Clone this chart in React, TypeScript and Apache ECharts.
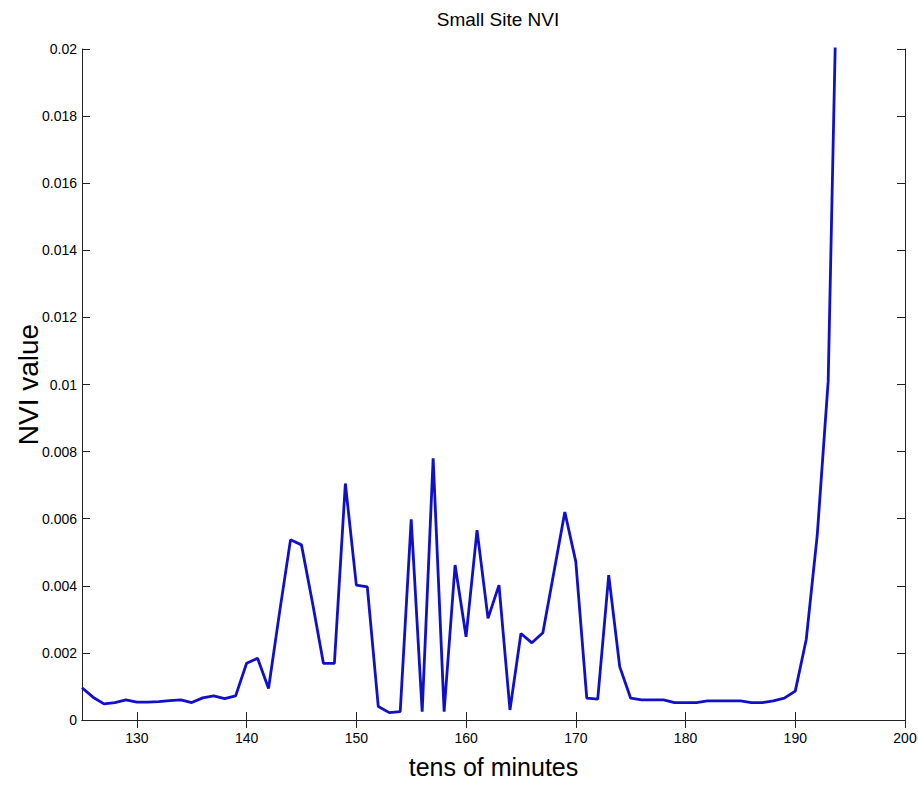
import React, { useEffect, useRef } from "react";
import * as echarts from "echarts";

const minutes: number[] = [
  125, 126, 127, 128, 129, 130, 131, 132, 133, 134,
  135, 136, 137, 138, 139, 140, 141, 142, 143, 144,
  145, 146, 147, 148, 149, 150, 151, 152, 153, 154,
  155, 156, 157, 158, 159, 160, 161, 162, 163, 164,
  165, 166, 167, 168, 169, 170, 171, 172, 173, 174,
  175, 176, 177, 178, 179, 180, 181, 182, 183, 184,
  185, 186, 187, 188, 189, 190, 191, 192, 193, 194,
];

const nviValues: number[] = [
  0.00096, 0.00068, 0.00048, 0.00052, 0.0006, 0.00053, 0.00053, 0.00055, 0.00058, 0.0006,
  0.00052, 0.00066, 0.00072, 0.00064, 0.00072, 0.00169, 0.00184, 0.00094, 0.0032, 0.00537,
  0.00522, 0.0035, 0.00169, 0.00169, 0.00705, 0.00402, 0.00397, 0.0004, 0.00022, 0.00025,
  0.00598, 0.00025, 0.0078, 0.00025, 0.00462, 0.00248, 0.00566, 0.00303, 0.00402, 0.0003,
  0.00258, 0.0023, 0.0026, 0.0044, 0.0062, 0.00472, 0.00065, 0.00062, 0.00432, 0.00159,
  0.00065, 0.0006, 0.0006, 0.0006, 0.00052, 0.00052, 0.00052, 0.00057, 0.00057, 0.00057,
  0.00057, 0.00052, 0.00052, 0.00057, 0.00065, 0.00086, 0.0024, 0.0055, 0.0101, 0.0257,
];

const xTickValues: number[] = [130, 140, 150, 160, 170, 180, 190, 200];

const TITLE = "Small Site NVI";
const X_NAME = "tens of minutes";
const Y_NAME = "NVI value";

const font = "'Liberation Sans', Arial, sans-serif";

export default function App() {
  const ref = useRef<HTMLDivElement>(null);

  useEffect(() => {
    if (!ref.current) return;
    const chart = echarts.init(ref.current, undefined, { renderer: "svg" });
    const fmtY = (v: number) => (v === 0 ? "0" : String(parseFloat(v.toFixed(4))));
    const axisLine = { show: true, lineStyle: { color: "#222", width: 1 } };
    const tick = { show: true, inside: true, length: 8, lineStyle: { color: "#222", width: 1 } };
    chart.setOption({
      animation: false,
      backgroundColor: "#fff",
      title: {
        text: TITLE,
        left: 493,
        textAlign: "center",
        top: 5,
        textStyle: { fontFamily: font, fontSize: 19, fontWeight: "normal", color: "#000" },
      },
      grid: { left: 82, right: 13, top: 49, bottom: 65, containLabel: false, outerBoundsMode: "none" },
      xAxis: [
        {
          type: "value",
          min: 125,
          max: 200,
          name: X_NAME,
          nameLocation: "middle",
          nameGap: 34,
          nameMoveOverlap: false,
          nameTextStyle: { fontFamily: font, fontSize: 25, color: "#000" },
          axisLine,
          axisTick: { ...tick, customValues: xTickValues },
          axisLabel: {
            customValues: xTickValues,
            margin: 11,
            fontFamily: font,
            fontSize: 14,
            color: "#000",
          },
          splitLine: { show: false },
        },
        {
          type: "value",
          position: "top",
          min: 125,
          max: 200,
          axisLine,
          axisTick: { ...tick, customValues: xTickValues },
          axisLabel: { show: false },
          splitLine: { show: false },
        },
      ],
      yAxis: [
        {
          type: "value",
          min: 0,
          max: 0.02,
          interval: 0.002,
          name: Y_NAME,
          nameLocation: "middle",
          nameGap: 40,
          nameRotate: 90,
          nameMoveOverlap: false,
          nameTextStyle: { fontFamily: font, fontSize: 28, color: "#000" },
          axisLine,
          axisTick: tick,
          axisLabel: { formatter: fmtY, margin: 5, fontFamily: font, fontSize: 14, color: "#000" },
          splitLine: { show: false },
        },
        {
          type: "value",
          position: "right",
          min: 0,
          max: 0.02,
          interval: 0.002,
          axisLine,
          axisTick: tick,
          axisLabel: { show: false },
          splitLine: { show: false },
        },
      ],
      series: [
        {
          type: "line",
          xAxisIndex: 0,
          yAxisIndex: 0,
          data: minutes.map((m, i) => [m, nviValues[i]]),
          showSymbol: false,
          symbol: "none",
          clip: true,
          lineStyle: { color: "#1010c8", width: 2.8 },
        },
      ],
    });
    return () => chart.dispose();
  }, []);

  return (
    <div
      ref={ref}
      style={{ position: "fixed", left: 0, top: 0, width: 918, height: 785 }}
    />
  );
}
